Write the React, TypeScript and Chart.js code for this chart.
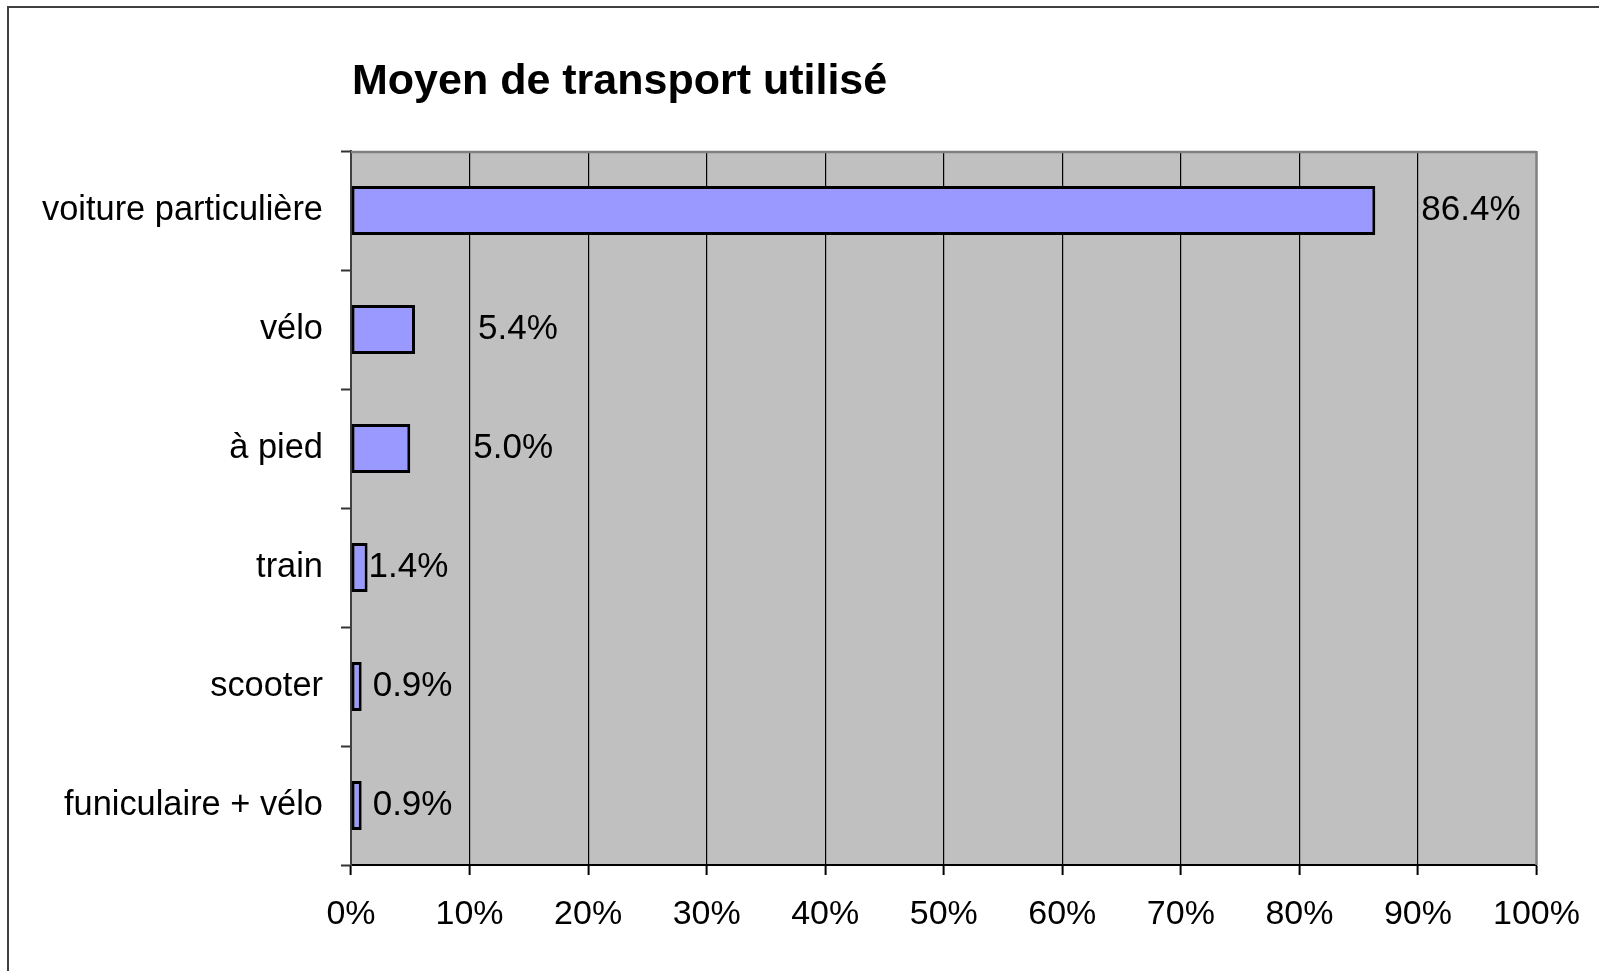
import React, { useEffect, useRef } from "react";
import { Chart, registerables } from "chart.js";

Chart.register(...registerables);

const chartTitle = "Moyen de transport utilisé";
const categories = [
  "voiture particulière",
  "vélo",
  "à pied",
  "train",
  "scooter",
  "funiculaire + vélo",
];
const shares = [86.4, 5.4, 5.0, 1.4, 0.9, 0.9];
const axisMin = 0;
const axisMax = 100;
const axisStep = 10;
// horizontal gap (px) between bar end and its value label, as placed in the original
const dataLabelOffsets = [46, 63, 63, 1, 11, 11];

const FONT = '"Liberation Sans", Arial, sans-serif';

const decorPlugin = {
  id: "decor",
  beforeDraw(chart: any) {
    const { ctx, chartArea: a } = chart;
    ctx.save();
    ctx.fillStyle = "#C0C0C0";
    ctx.fillRect(a.left, a.top, a.right - a.left, a.bottom - a.top);
    ctx.font = `bold 43px ${FONT}`;
    ctx.fillStyle = "#000";
    ctx.textAlign = "left";
    ctx.textBaseline = "alphabetic";
    ctx.fillText(chartTitle, a.left + 1, 94);
    ctx.restore();
  },
  afterDatasetsDraw(chart: any) {
    const { ctx } = chart;
    const meta = chart.getDatasetMeta(0);
    ctx.save();
    ctx.font = `35px ${FONT}`;
    ctx.fillStyle = "#000";
    ctx.textAlign = "left";
    ctx.textBaseline = "middle";
    meta.data.forEach((bar: any, i: number) => {
      const v = shares[i];
      ctx.fillText(v.toFixed(1) + "%", bar.x + dataLabelOffsets[i], bar.y);
    });
    ctx.restore();
  },
  afterDraw(chart: any) {
    const { ctx, chartArea: a } = chart;
    ctx.save();
    ctx.strokeStyle = "#808080";
    ctx.lineWidth = 2.5;
    ctx.beginPath();
    ctx.moveTo(a.left, a.top + 1);
    ctx.lineTo(a.right, a.top + 1);
    ctx.moveTo(a.right, a.top);
    ctx.lineTo(a.right, a.bottom);
    ctx.stroke();
    ctx.restore();
  },
};

export default function App() {
  const ref = useRef<HTMLCanvasElement | null>(null);

  useEffect(() => {
    if (!ref.current) return;
    const chart = new Chart(ref.current, {
      type: "bar",
      data: {
        labels: categories,
        datasets: [
          {
            data: shares,
            backgroundColor: "#9999FF",
            borderColor: "#000000",
            borderWidth: 3,
            borderSkipped: false,
            barPercentage: 0.41,
            categoryPercentage: 1,
          },
        ],
      },
      options: {
        indexAxis: "y",
        responsive: false,
        animation: false,
        devicePixelRatio: 1,
        layout: { padding: { top: 151, right: 62, bottom: 0, left: 0 } },
        plugins: {
          legend: { display: false },
          tooltip: { enabled: false },
          title: { display: false },
        },
        scales: {
          x: {
            type: "linear",
            min: axisMin,
            max: axisMax,
            ticks: {
              stepSize: axisStep,
              callback: (v: any) => `${v}%`,
              color: "#000",
              font: { family: FONT, size: 34 },
              padding: 19,
              maxRotation: 0,
            },
            grid: {
              color: (c: any) => (c.index === 10 ? "rgba(0,0,0,0)" : "#000"),
              lineWidth: 1.2,
              drawOnChartArea: true,
              drawTicks: true,
              tickLength: 10,
              tickColor: "#000",
              tickWidth: 2,
            },
            border: { display: true, color: "#000", width: 2 },
            afterFit: (s: any) => {
              s.height = 106;
            },
          },
          y: {
            type: "category",
            offset: true,
            ticks: {
              color: "#000",
              font: { family: FONT, size: 34.4 },
              padding: 18,
            },
            grid: {
              offset: true,
              drawOnChartArea: false,
              drawTicks: true,
              tickLength: 10,
              tickColor: "#333",
              tickWidth: 2,
            },
            border: { display: true, color: "#404040", width: 2 },
            afterFit: (s: any) => {
              s.width = 351;
            },
          },
        },
      },
      plugins: [decorPlugin],
    } as any);
    return () => chart.destroy();
  }, []);

  return (
    <div
      style={{
        position: "absolute",
        left: 0,
        top: 0,
        width: 1599,
        height: 971,
        overflow: "hidden",
        background: "#fff",
      }}
    >
      <div
        style={{
          position: "absolute",
          left: 7,
          top: 6,
          width: 1700,
          height: 1100,
          border: "2px solid #404040",
        }}
      />
      <canvas
        ref={ref}
        width={1599}
        height={971}
        style={{ position: "absolute", left: 0, top: 0, width: 1599, height: 971 }}
      />
    </div>
  );
}
